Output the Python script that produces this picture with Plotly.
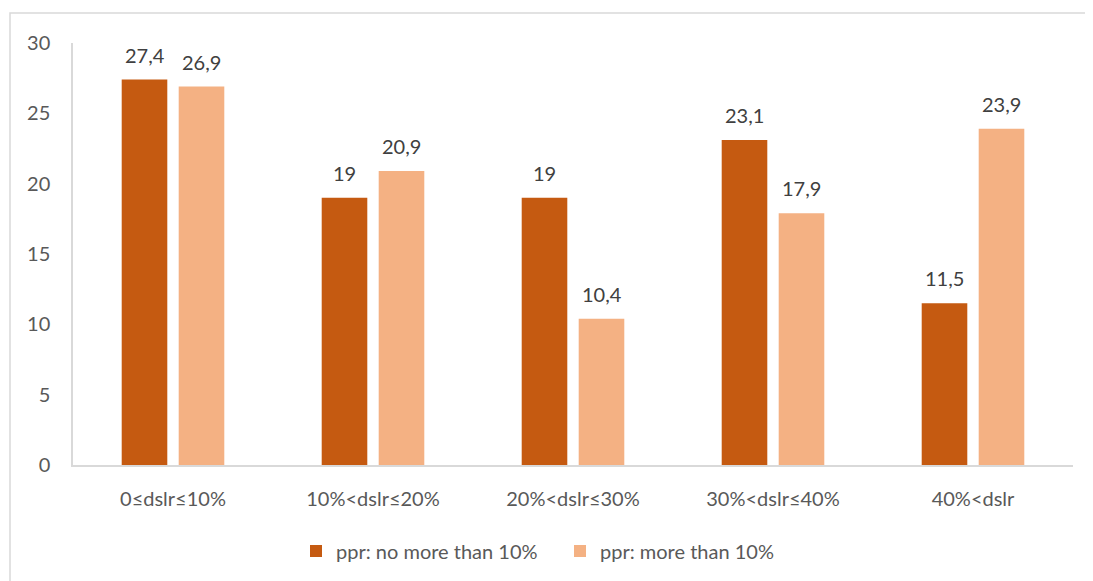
import plotly.graph_objects as go

categories = ["0≤dslr≤10%", "10%<dslr≤20%", "20%<dslr≤30%", "30%<dslr≤40%", "40%<dslr"]
series_names = ["ppr: no more than 10%", "ppr: more than 10%"]
values_low = [27.4, 19, 19, 23.1, 11.5]
values_high = [26.9, 20.9, 10.4, 17.9, 23.9]
y_ticks = [0, 5, 10, 15, 20, 25, 30]

colors = ["#C55A11", "#F4B183"]
FONT = "Lato, Open Sans, sans-serif"
FS = 20


def fmt(v):
    return f"{v:g}".replace(".", ",")


fig = go.Figure()
for name, vals, col in zip(series_names, [values_low, values_high], colors):
    fig.add_trace(go.Bar(
        x=categories, y=vals, name=name,
        marker=dict(color=col, line=dict(width=0)),
        hoverinfo="x+y",
    ))

# data labels above bars
shifts = [-28.5, 28.5]
for vals, xs in zip([values_low, values_high], shifts):
    for c, v in zip(categories, vals):
        fig.add_annotation(
            x=c, y=v, text=fmt(v), showarrow=False,
            xshift=xs, yshift=11, yanchor="bottom",
            font=dict(family=FONT, size=FS, color="#404040"),
        )

# outer chart border
fig.add_shape(
    type="rect", xref="paper", yref="paper",
    x0=-0.063, x1=1.1, y0=-0.5, y1=1.0709,
    line=dict(color="#D9D9D9", width=1.5), fillcolor="rgba(0,0,0,0)",
    layer="below",
)

fig.update_layout(
    width=1085, height=573,
    margin=dict(l=65, r=20, t=35, b=115),
    paper_bgcolor="white", plot_bgcolor="white",
    barmode="group", bargap=0.43, bargroupgap=0.2,
    font=dict(family=FONT, size=FS, color="#595959"),
    showlegend=True,
    legend=dict(
        orientation="h", x=0.487, xanchor="center", y=-0.201, yanchor="middle",
        font=dict(family=FONT, size=FS, color="#595959"),
        itemwidth=30, traceorder="normal",
        entrywidth=219, entrywidthmode="pixels",
    ),
    xaxis=dict(
        showline=True, linecolor="#D9D9D9", linewidth=1.5,
        showgrid=False, ticks="", ticklabelstandoff=15,
        tickfont=dict(family=FONT, size=FS, color="#595959"),
    ),
    yaxis=dict(
        range=[0, 30], tickvals=y_ticks, showline=True,
        linecolor="#D9D9D9", linewidth=1.5, showgrid=False,
        ticks="", ticklabelstandoff=17, zeroline=False,
        tickfont=dict(family=FONT, size=FS, color="#595959"),
    ),
)

fig.write_html("out.html")
